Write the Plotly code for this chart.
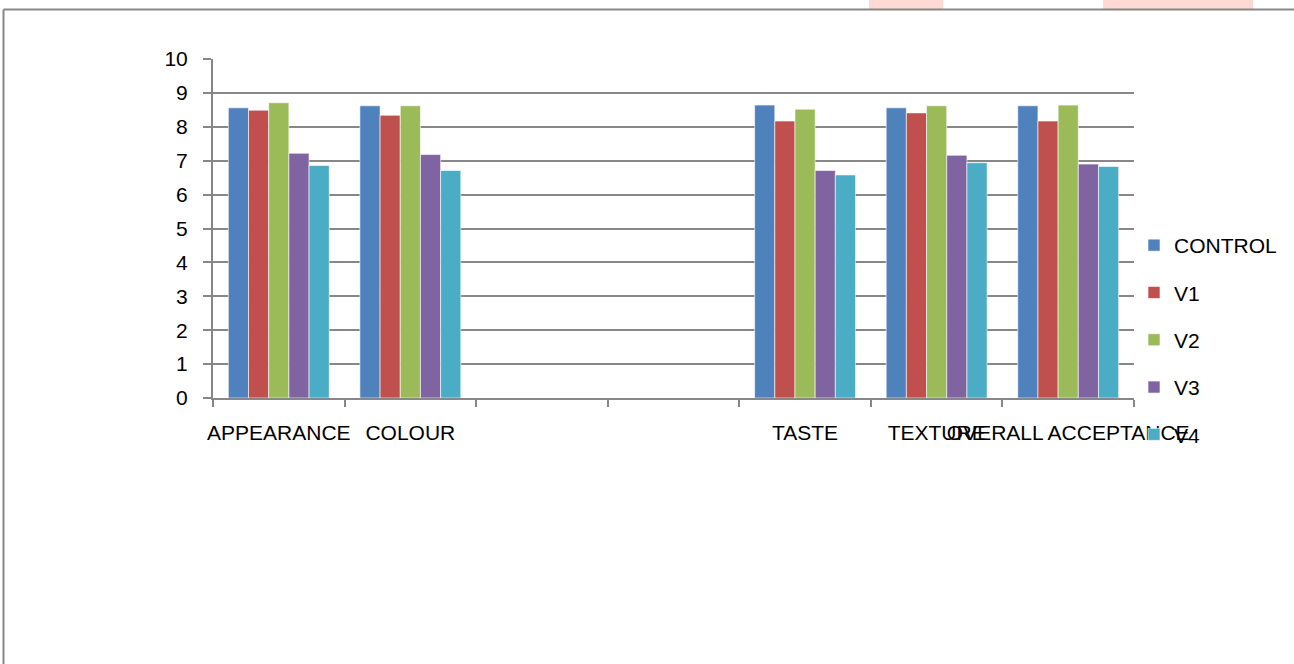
import plotly.graph_objects as go

categories = ["APPEARANCE", "COLOUR", " ", "  ", "TASTE", "TEXTURE", "OVERALL ACCEPTANCE"]
series_names = ["CONTROL", "V1", "V2", "V3", "V4"]
control = [8.56, 8.62, None, None, 8.64, 8.56, 8.62]
v1 = [8.49, 8.34, None, None, 8.17, 8.41, 8.17]
v2 = [8.71, 8.62, None, None, 8.52, 8.62, 8.64]
v3 = [7.22, 7.18, None, None, 6.71, 7.16, 6.90]
v4 = [6.86, 6.71, None, None, 6.58, 6.94, 6.83]
colors = ["#4F81BD", "#C0504D", "#9BBB59", "#8064A2", "#4BACC6"]
y_ticks = list(range(0, 11))

FONT = "Liberation Sans, Arial, sans-serif"
GRID = "#878787"

fig = go.Figure()
for name, vals, col in zip(series_names, [control, v1, v2, v3, v4], colors):
    fig.add_trace(go.Bar(
        x=categories, y=vals, name=name, legendgroup=name,
        marker=dict(color=col, line=dict(color="rgba(255,255,255,0.6)", width=1)),
    ))

L, R, T, B = 213, 160, 59, 266
W, H = 1294, 664
pw, ph = W - L - R, H - T - B

def px(x):
    return (x - L) / pw

def py(y):
    return (H - B - y) / ph

shapes = [
    # watermark fragments at the top
    dict(type="rect", xref="paper", yref="paper", x0=px(869), x1=px(943), y0=py(9), y1=py(0),
         fillcolor="#FFD9D3", line=dict(width=0), layer="below"),
    dict(type="rect", xref="paper", yref="paper", x0=px(1103), x1=px(1253), y0=py(9), y1=py(0),
         fillcolor="#FFD9D3", line=dict(width=0), layer="below"),
    # outer chart border
    dict(type="line", xref="paper", yref="paper", x0=px(3.5), x1=px(1294), y0=py(9.5), y1=py(9.5),
         line=dict(color=GRID, width=2)),
    dict(type="line", xref="paper", yref="paper", x0=px(3.5), x1=px(3.5), y0=py(9.5), y1=py(664),
         line=dict(color=GRID, width=2)),
]

fig.update_layout(
    width=W, height=H,
    margin=dict(l=L, r=R, t=T, b=B, autoexpand=False),
    paper_bgcolor="white", plot_bgcolor="white",
    font=dict(family=FONT, size=21, color="black"),
    barmode="group", bargap=0.233, bargroupgap=0,
    showlegend=True,
    legend=dict(x=1.0, xanchor="left", y=py(225), yanchor="top",
                tracegroupgap=17, font=dict(size=21), bgcolor="rgba(0,0,0,0)"),
    shapes=shapes,
    xaxis=dict(
        type="category", categoryorder="array", categoryarray=categories,
        range=[-0.5, 6.5], tickson="boundaries", ticks="outside", ticklen=7,
        tickcolor=GRID, tickwidth=2, showline=True, linecolor=GRID, linewidth=2,
        showgrid=False, tickangle=0, ticklabelstandoff=15,
        tickfont=dict(size=21), fixedrange=True,
    ),
    yaxis=dict(
        range=[0, 10], tickvals=y_ticks, ticks="outside", ticklen=8,
        tickcolor=GRID, tickwidth=2, showline=True, linecolor=GRID, linewidth=2,
        showgrid=True, gridcolor=GRID, gridwidth=2, zeroline=False,
        ticklabelstandoff=11, tickfont=dict(size=21), fixedrange=True,
    ),
)

fig.write_html("out.html")
